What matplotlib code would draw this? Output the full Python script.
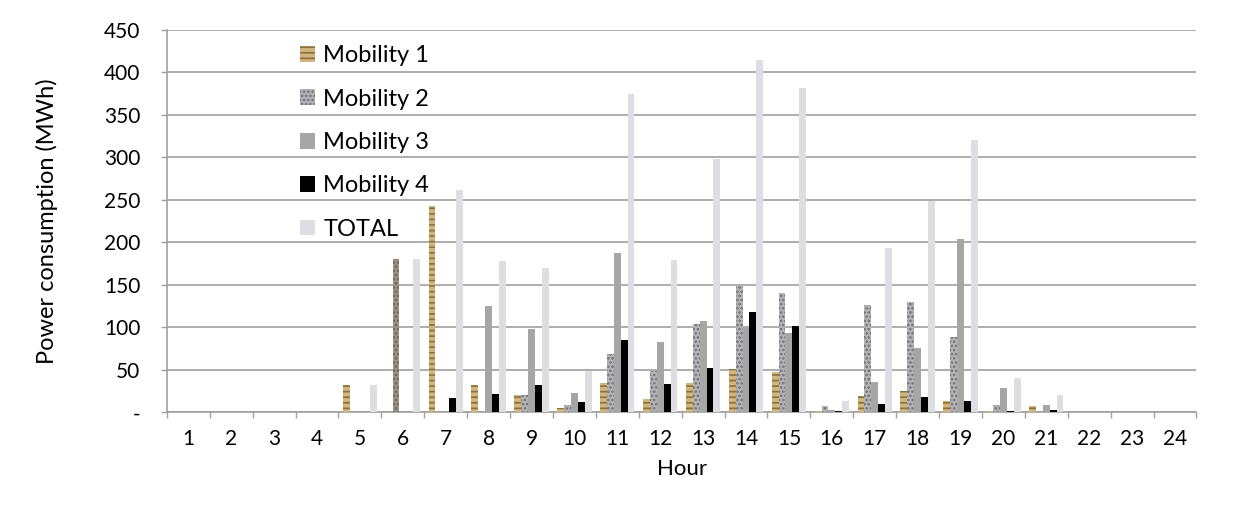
import numpy as np
import matplotlib.pyplot as plt

plt.rcParams["font.family"] = ["Lato", "DejaVu Sans"]
plt.rcParams["hatch.linewidth"] = 1.2

hours = list(range(1, 25))
mobility_1 = [0, 0, 0, 0, 32, 0, 243, 32, 20, 5, 34, 16, 34, 51, 47, 1, 19, 25, 13, 1, 7, 0, 0, 0]
mobility_2 = [0, 0, 0, 0, 0, 180, 0, 0, 20, 9, 68, 48, 104, 148, 140, 7, 126, 130, 89, 9, 0, 0, 0, 0]
mobility_3 = [0, 0, 0, 0, 0, 0, 0, 125, 98, 23, 187, 83, 107, 100, 93, 3, 36, 75, 204, 28, 9, 0, 0, 0]
mobility_4 = [0, 0, 0, 0, 0, 0, 17, 22, 32, 12, 85, 33, 52, 118, 101, 1, 10, 18, 13, 1.5, 3, 0, 0, 0]
total = [0, 0, 0, 0, 32, 180, 261, 178, 170, 49, 374, 179, 298, 415, 382, 13, 193, 249, 320, 40, 20, 0, 0, 0]

series = ["Mobility 1", "Mobility 2", "Mobility 3", "Mobility 4", "TOTAL"]
values = [mobility_1, mobility_2, mobility_3, mobility_4, total]
y_ticks = [0, 50, 100, 150, 200, 250, 300, 350, 400, 450]
y_tick_labels = ["-", "50", "100", "150", "200", "250", "300", "350", "400", "450"]

# face colour, hatch, hatch colour (rough stand-ins for the picture fills)
styles = [
    ("#d2b57a", "---", "#8c713f"),
    ("#b4b4b8", "....", "#6e6e72"),
    ("#a6a6a6", None, "#a6a6a6"),
    ("#000000", None, "#000000"),
    ("#dedee2", None, "#dedee2"),
]

fig = plt.figure(figsize=(12.36, 5.14), dpi=100)
ax = fig.add_axes([0.135, 0.198, 0.833, 0.744])

x = np.array(hours)
w = 0.16
for k, (name, vals) in enumerate(zip(series, values)):
    fc, hatch, hc = styles[k]
    bars = ax.bar(x + (k - 2) * w, vals, width=w, color=fc, hatch=hatch,
                  edgecolor=hc, linewidth=0, label=name, zorder=3)
    if k == 1:
        # hour 6 bar is drawn with a brownish fill in the original
        bars[5].set_facecolor("#9e9082")
        bars[5].set_edgecolor("#6f6257")

ax.set_xlim(0.5, 24.5)
ax.set_ylim(0, 450)
ax.set_yticks(y_ticks)
ax.set_yticklabels(y_tick_labels)
ax.yaxis.grid(True, color="#a0a0a0", linewidth=1.2, zorder=0)

ax.set_xticks(np.arange(0.5, 25, 1))
ax.set_xticklabels([])
ax.set_xticks(x, minor=True)
ax.set_xticklabels([str(h) for h in hours], minor=True)
ax.tick_params(axis="x", which="major", length=4.5, color="#a0a0a0", width=1)
ax.tick_params(axis="x", which="minor", length=0, pad=12, labelsize=15)
ax.tick_params(axis="y", length=4, color="#a0a0a0", width=1, labelsize=15, pad=15)

for s in ["top", "right"]:
    ax.spines[s].set_visible(False)
ax.spines["left"].set_color("#a0a0a0")
ax.spines["bottom"].set_color("#a0a0a0")
ax.spines["left"].set_linewidth(1.2)
ax.spines["bottom"].set_linewidth(1.2)

ax.set_xlabel("Hour", fontsize=16, labelpad=7)
ax.set_ylabel("Power consumption (MWh)", fontsize=17, labelpad=33)

ax.legend(loc="upper left", bbox_to_anchor=(0.129, 0.96), frameon=False,
          fontsize=17, labelspacing=0.95, handlelength=0.65, handleheight=0.65,
          handletextpad=0.35, borderpad=0, borderaxespad=0)

fig.savefig("out.png", dpi=100)
